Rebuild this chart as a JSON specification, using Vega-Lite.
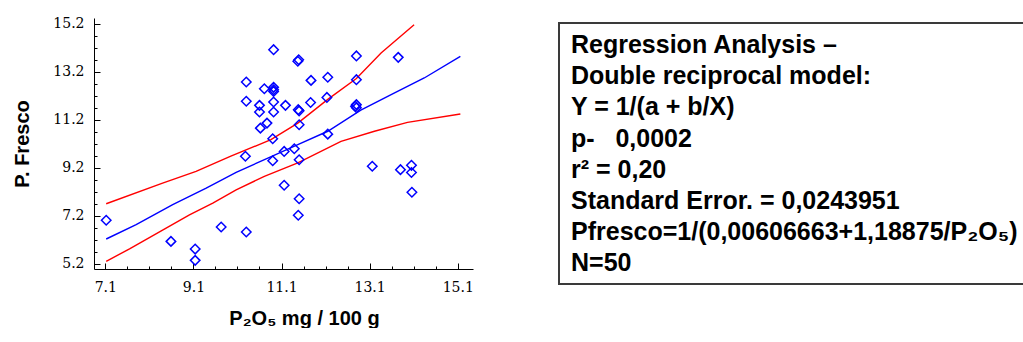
{
  "$schema": "https://vega.github.io/schema/vega-lite/v6.json",
  "autosize": {"type": "pad"},
  "padding": {"left": 12, "top": 14, "right": 0, "bottom": 0},
  "background": "white",
  "bounds": "flush",
  "spacing": 86,
  "config": {"view": {"stroke": null}, "font": "Liberation Sans"},
  "datasets": {
    "pts": [
      {"p2o5": 7.12, "pf": 7.01}, {"p2o5": 8.59, "pf": 6.13}, {"p2o5": 9.14, "pf": 5.81}, {"p2o5": 9.14, "pf": 5.34},
      {"p2o5": 9.73, "pf": 6.73}, {"p2o5": 10.3, "pf": 6.52}, {"p2o5": 10.28, "pf": 9.68}, {"p2o5": 10.9, "pf": 10.41},
      {"p2o5": 11.16, "pf": 9.88}, {"p2o5": 11.39, "pf": 9.99}, {"p2o5": 10.9, "pf": 9.49}, {"p2o5": 11.5, "pf": 9.53},
      {"p2o5": 11.16, "pf": 8.47}, {"p2o5": 11.5, "pf": 7.91}, {"p2o5": 11.48, "pf": 7.22}, {"p2o5": 13.16, "pf": 9.26},
      {"p2o5": 13.8, "pf": 9.12}, {"p2o5": 14.05, "pf": 9.3}, {"p2o5": 14.05, "pf": 9.0}, {"p2o5": 14.06, "pf": 8.18},
      {"p2o5": 12.15, "pf": 10.6}, {"p2o5": 10.92, "pf": 14.12}, {"p2o5": 11.49, "pf": 13.7}, {"p2o5": 11.47, "pf": 13.64},
      {"p2o5": 12.8, "pf": 13.86}, {"p2o5": 13.75, "pf": 13.8}, {"p2o5": 10.3, "pf": 12.77}, {"p2o5": 10.71, "pf": 12.49},
      {"p2o5": 10.92, "pf": 12.55}, {"p2o5": 10.92, "pf": 12.38}, {"p2o5": 11.77, "pf": 12.84}, {"p2o5": 12.15, "pf": 12.97},
      {"p2o5": 12.8, "pf": 12.87}, {"p2o5": 10.3, "pf": 11.97}, {"p2o5": 10.6, "pf": 11.8}, {"p2o5": 10.6, "pf": 11.52},
      {"p2o5": 10.92, "pf": 11.94}, {"p2o5": 10.92, "pf": 11.52}, {"p2o5": 11.19, "pf": 11.8}, {"p2o5": 11.48, "pf": 11.62},
      {"p2o5": 11.5, "pf": 11.57}, {"p2o5": 11.76, "pf": 11.92}, {"p2o5": 12.13, "pf": 12.13}, {"p2o5": 12.8, "pf": 11.83},
      {"p2o5": 12.8, "pf": 11.7}, {"p2o5": 10.77, "pf": 11.06}, {"p2o5": 10.62, "pf": 10.85}, {"p2o5": 11.5, "pf": 10.99},
      {"p2o5": 10.92, "pf": 12.45}, {"p2o5": 12.78, "pf": 11.76}
    ],
    "curves": [
      {"s": "fit", "p2o5": 7.12, "pf": 6.23}, {"s": "fit", "p2o5": 7.8, "pf": 6.83}, {"s": "fit", "p2o5": 8.63, "pf": 7.66},
      {"s": "fit", "p2o5": 9.39, "pf": 8.35}, {"s": "fit", "p2o5": 10.07, "pf": 9.01}, {"s": "fit", "p2o5": 10.79, "pf": 9.6},
      {"s": "fit", "p2o5": 11.47, "pf": 10.16}, {"s": "fit", "p2o5": 12.15, "pf": 10.72}, {"s": "fit", "p2o5": 12.9, "pf": 11.6},
      {"s": "fit", "p2o5": 13.6, "pf": 12.26}, {"s": "fit", "p2o5": 14.34, "pf": 12.94}, {"s": "fit", "p2o5": 15.16, "pf": 13.84},
      {"s": "upper", "p2o5": 7.12, "pf": 7.7}, {"s": "upper", "p2o5": 8.4, "pf": 8.56}, {"s": "upper", "p2o5": 9.16, "pf": 9.05},
      {"s": "upper", "p2o5": 9.95, "pf": 9.68}, {"s": "upper", "p2o5": 10.86, "pf": 10.37}, {"s": "upper", "p2o5": 11.47, "pf": 11.06},
      {"s": "upper", "p2o5": 12.15, "pf": 12.05}, {"s": "upper", "p2o5": 12.8, "pf": 12.92}, {"s": "upper", "p2o5": 13.36, "pf": 13.98},
      {"s": "upper", "p2o5": 14.11, "pf": 15.16},
      {"s": "lower", "p2o5": 7.12, "pf": 5.3}, {"s": "lower", "p2o5": 7.65, "pf": 5.82}, {"s": "lower", "p2o5": 8.4, "pf": 6.6},
      {"s": "lower", "p2o5": 9.01, "pf": 7.24}, {"s": "lower", "p2o5": 9.54, "pf": 7.73}, {"s": "lower", "p2o5": 10.07, "pf": 8.28},
      {"s": "lower", "p2o5": 10.71, "pf": 8.84}, {"s": "lower", "p2o5": 11.47, "pf": 9.4}, {"s": "lower", "p2o5": 12.45, "pf": 10.3},
      {"s": "lower", "p2o5": 13.21, "pf": 10.72}, {"s": "lower", "p2o5": 13.96, "pf": 11.09}, {"s": "lower", "p2o5": 15.16, "pf": 11.44}
    ],
    "box": [
      {"i": 0, "t": "Regression Analysis \u2013"},
      {"i": 1, "t": "Double reciprocal model:"},
      {"i": 2, "t": "\u00a0Y = 1/(a + b/X)"},
      {"i": 3, "t": "p-\u00a0\u00a0\u00a00,0002"},
      {"i": 4, "t": "r\u00b2 = 0,20"},
      {"i": 5, "t": "Standard Error. = 0,0243951"},
      {"i": 6, "t": "Pfresco=1/(0,00606663+1,18875/P\u2082O\u2085)"},
      {"i": 7, "t": "N=50"}
    ]
  },
  "hconcat": [
    {
      "width": 379,
      "height": 251,
      "encoding": {
        "x": {
          "field": "p2o5", "type": "quantitative",
          "scale": {"domain": [6.843, 15.447], "nice": false, "zero": false},
          "axis": {
            "title": "P\u2082O\u2085 mg / 100 g",
            "titleFont": "Liberation Sans", "titleFontSize": 20, "titleFontWeight": "bold", "titleColor": "black",
            "titlePadding": 11, "titleX": 210,
            "values": [7.1, 7.6, 8.1, 8.6, 9.1, 9.6, 10.1, 10.6, 11.1, 11.6, 12.1, 12.6, 13.1, 13.6, 14.1, 14.6, 15.1],
            "labelExpr": "abs(datum.value - 7.1 - 2*round((datum.value - 7.1)/2)) < 0.01 ? format(datum.value, '.1f') : ''",
            "tickSize": {"condition": {"test": "abs(datum.value - 7.1 - 2*round((datum.value - 7.1)/2)) < 0.01", "value": -6}, "value": -3},
            "tickWidth": 1,
            "labelPadding": 17,
            "labelFont": "DejaVu Serif", "labelFontSize": 14, "labelColor": "black",
            "tickColor": "black", "domainColor": "black", "grid": false, "labelFlush": false, "labelOverlap": false
          }
        },
        "y": {
          "field": "pf", "type": "quantitative",
          "scale": {"domain": [4.98, 15.44], "nice": false, "zero": false},
          "axis": {
            "title": "P. Fresco",
            "titleFont": "Liberation Sans", "titleFontSize": 20, "titleFontWeight": "bold", "titleColor": "black",
            "titlePadding": 20,
            "values": [5.2, 5.7, 6.2, 6.7, 7.2, 7.7, 8.2, 8.7, 9.2, 9.7, 10.2, 10.7, 11.2, 11.7, 12.2, 12.7, 13.2, 13.7, 14.2, 14.7, 15.2],
            "labelExpr": "abs(datum.value - 5.2 - 2*round((datum.value - 5.2)/2)) < 0.01 ? format(datum.value, '.1f') : ''",
            "tickSize": {"condition": {"test": "abs(datum.value - 5.2 - 2*round((datum.value - 5.2)/2)) < 0.01", "value": -6}, "value": -3},
            "tickWidth": 1,
            "labelPadding": 16,
            "labelFont": "DejaVu Serif", "labelFontSize": 14, "labelColor": "black",
            "tickColor": "black", "domainColor": "black", "grid": false, "labelFlush": false, "labelOverlap": false
          }
        }
      },
      "layer": [
        {
          "data": {"name": "curves"},
          "mark": {"type": "line", "strokeWidth": 1.4},
          "encoding": {
            "color": {"field": "s", "type": "nominal", "scale": {"domain": ["fit", "lower", "upper"], "range": ["#0000ff", "#ff0000", "#ff0000"]}, "legend": null}
          }
        },
        {
          "data": {"name": "pts"},
          "mark": {"type": "point", "shape": "diamond", "filled": false, "size": 90, "strokeWidth": 1.5, "color": "#0000ff", "opacity": 1}
        }
      ]
    },
    {
      "bounds": "flush",
      "spacing": 0,
      "vconcat": [
        {
          "width": 466,
          "height": 5,
          "data": {"values": [{}]},
          "mark": {"type": "text"},
          "encoding": {"text": {"value": ""}}
        },
        {
          "width": 466,
          "height": 261,
          "view": {"stroke": "#3a3a3a", "strokeWidth": 2},
          "data": {"name": "box"},
          "mark": {"type": "text", "align": "left", "baseline": "alphabetic", "dx": 12, "font": "Liberation Sans", "fontSize": 25, "fontWeight": "bold", "color": "black"},
          "encoding": {
            "x": {"datum": 0, "type": "quantitative", "scale": {"domain": [0, 1]}, "axis": null},
            "y": {"field": "i", "type": "quantitative", "scale": {"domain": [-0.962, 7.406], "reverse": true, "nice": false, "zero": false}, "axis": null},
            "text": {"field": "t"}
          }
        }
      ]
    }
  ]
}
